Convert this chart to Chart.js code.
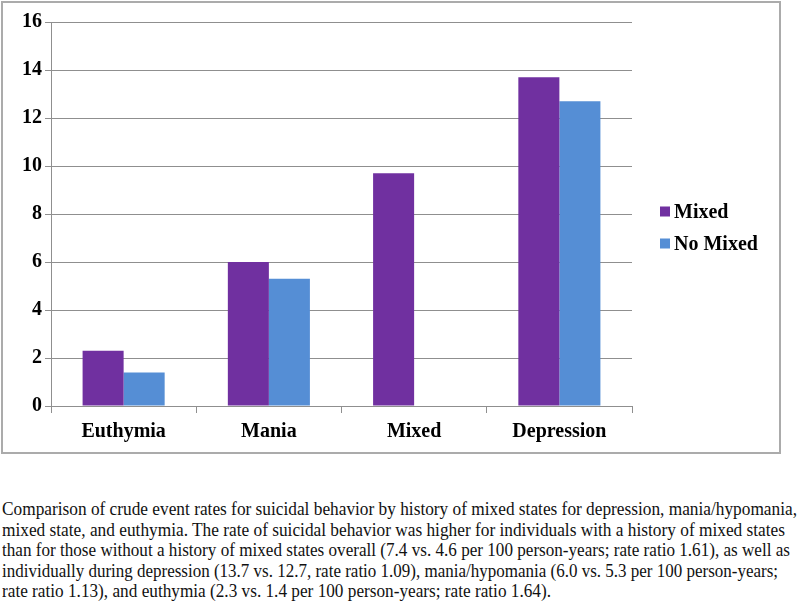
<!DOCTYPE html>
<html>
<head>
<meta charset="utf-8">
<script src="https://cdn.jsdelivr.net/npm/chart.js@4/dist/chart.umd.min.js"></script>
<style>
  body { margin: 0; background: #fff; width: 800px; height: 608px; overflow: hidden; position: relative; font-family: "Liberation Serif", serif; }
  #box { position: absolute; left: 1px; top: 1px; width: 776px; height: 449px; border: 2px solid #ababab; }
  #myChart { display: block; }
  #caption { position: absolute; left: 2px; top: 499px; font-family: "Liberation Serif", "Times New Roman", serif; font-size: 19px; color: #111; }
  #caption div { white-space: nowrap; height: 20.5px; line-height: 20.5px; transform-origin: 0 50%; width: max-content; }
  #warm { position: absolute; left: -1000px; top: 0; font: bold 20px "Liberation Serif"; }
</style>
</head>
<body>
<div id="box"><canvas id="myChart" width="776" height="449"></canvas></div>
<div id="caption"></div>
<span id="warm">16 Mixed</span>
<script>
const labels = ["Euthymia", "Mania", "Mixed", "Depression"];
const mixedRates = [2.3, 6.0, 9.7, 13.7];
const noMixedRates = [1.4, 5.3, null, 12.7];
const yTicks = [0, 2, 4, 6, 8, 10, 12, 14, 16];

const captionLines = [
  "Comparison of crude event rates for suicidal behavior by history of mixed states for depression, mania/hypomania,",
  "mixed state, and euthymia. The rate of suicidal behavior was higher for individuals with a history of mixed states",
  "than for those without a history of mixed states overall (7.4 vs. 4.6 per 100 person-years; rate ratio 1.61), as well as",
  "individually during depression (13.7 vs. 12.7, rate ratio 1.09), mania/hypomania (6.0 vs. 5.3 per 100 person-years;",
  "rate ratio 1.13), and euthymia (2.3 vs. 1.4 per 100 person-years; rate ratio 1.64)."
];
// target widths of each caption line in the picture
const captionWidths = [795, 783, 788, 776, 549];

const gridColor = "#8f8f8f";
const fontFamily = "'Liberation Serif', 'Times New Roman', serif";

// legend drawn by hand so it sits where the original one is
const sideLegend = {
  id: "sideLegend",
  afterDraw(chart) {
    const c = chart.ctx;
    c.save();
    c.font = "bold 20px " + fontFamily;
    c.textBaseline = "middle";
    chart.data.datasets.forEach((ds, i) => {
      const y = 208.5 + i * 32;
      c.fillStyle = ds.backgroundColor;
      c.fillRect(657, y - 5, 10, 10);
      c.fillStyle = "#000";
      c.fillText(ds.label, 671, y + 1);
    });
    c.restore();
  }
};

function createChart() {
  const ctx = document.getElementById("myChart");
  return new Chart(ctx, {
    type: "bar",
    data: {
      labels: labels,
      datasets: [
        { label: "Mixed", data: mixedRates, backgroundColor: "#7030a0" },
        { label: "No Mixed", data: noMixedRates, backgroundColor: "#558ed5" }
      ]
    },
    plugins: [sideLegend],
    options: {
      responsive: false,
      animation: false,
      layout: { padding: { top: 19, right: 147, left: 0, bottom: 0 } },
      plugins: { legend: { display: false }, tooltip: { enabled: false } },
      datasets: { bar: { categoryPercentage: 0.565, barPercentage: 1.0 } },
      scales: {
        x: {
          grid: { drawOnChartArea: false, drawTicks: true, tickLength: 7, color: gridColor, offset: true },
          border: { color: gridColor, width: 1 },
          ticks: { color: "#000", font: { family: fontFamily, size: 20, weight: "bold" }, padding: 7, maxRotation: 0 },
          afterFit(scale) { scale.height = 46; }
        },
        y: {
          min: 0,
          max: 16,
          afterBuildTicks(scale) { scale.ticks = yTicks.map(v => ({ value: v })); },
          grid: { color: gridColor, tickLength: 6, lineWidth: 1 },
          border: { color: gridColor, width: 1 },
          ticks: { color: "#000", font: { family: fontFamily, size: 20, weight: "bold" }, padding: 3 },
          afterFit(scale) { scale.width = 48; }
        }
      }
    }
  });
}

function createCaption() {
  const cap = document.getElementById("caption");
  captionLines.forEach((t, i) => {
    const d = document.createElement("div");
    d.textContent = t;
    cap.appendChild(d);
    const w = d.getBoundingClientRect().width;
    d.style.transform = "scaleX(" + (captionWidths[i] / w) + ")";
  });
}

Promise.all([
  document.fonts.load("bold 20px 'Liberation Serif'"),
  document.fonts.load("19px 'Liberation Serif'")
]).then(() => {
  createChart();
  createCaption();
});
</script>
</body>
</html>
